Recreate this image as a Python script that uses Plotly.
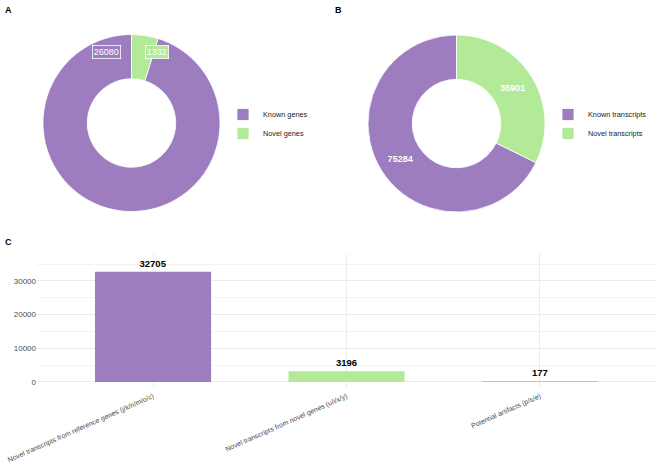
import plotly.graph_objects as go

# ---- data ----
gene_labels = ["Known genes", "Novel genes"]
gene_values = [26080, 1332]
tx_labels = ["Known transcripts", "Novel transcripts"]
tx_values = [75284, 35901]
cat_labels = [
    "Novel transcripts from reference genes (j/k/n/m/o/c)",
    "Novel transcripts from novel genes (u/i/x/y)",
    "Potential artifacts (p/s/e)",
]
cat_values = [32705, 3196, 177]

PURPLE = "#9d7cbf"
GREEN = "#b3ea97"
ORANGE = "#f4b38f"
FONT = "Liberation Sans, Arial, sans-serif"
W, H = 658, 468

def px(x):
    return x / W

def py(y):
    return 1 - y / H

# the Known slice starts where the Novel slice ends (Novel sits clockwise from 12 o'clock)
rot_a = 360 * gene_values[1] / sum(gene_values)
rot_b = 360 * tx_values[1] / sum(tx_values)

fig = go.Figure()

# Panel A donut
fig.add_trace(go.Pie(
    labels=gene_labels, values=gene_values, hole=0.5, sort=False,
    direction="clockwise", rotation=rot_a,
    marker=dict(colors=[PURPLE, GREEN], line=dict(color="white", width=0.8)),
    textinfo="none", hoverinfo="label+value",
    domain=dict(x=[px(43), px(220)], y=[py(212), py(34)]),
    legend="legend",
))

# Panel B donut
fig.add_trace(go.Pie(
    labels=tx_labels, values=tx_values, hole=0.5, sort=False,
    direction="clockwise", rotation=rot_b,
    marker=dict(colors=[PURPLE, GREEN], line=dict(color="white", width=0.8)),
    textinfo="value", textposition="inside", insidetextorientation="horizontal",
    texttemplate="<b>%{value:.0f}</b>",
    textfont=dict(color="white", size=9, family=FONT),
    hoverinfo="label+value",
    domain=dict(x=[px(368), px(545)], y=[py(212), py(35)]),
    legend="legend2",
))

# Panel C bars
fig.add_trace(go.Bar(
    x=cat_labels, y=cat_values, width=0.6,
    marker=dict(color=[PURPLE, GREEN, ORANGE], line=dict(width=0)),
    text=[f"<b>{v}</b>" for v in cat_values], textposition="outside",
    textfont=dict(color="black", size=9.5, family=FONT),
    cliponaxis=False, showlegend=False,
))

# Labels for panel A (label boxes)
fig.add_annotation(x=px(106), y=py(52), xref="paper", yref="paper",
                   xanchor="center", yanchor="middle",
                   text=str(gene_values[0]), showarrow=False,
                   font=dict(color="white", size=9, family=FONT),
                   bgcolor=PURPLE, bordercolor="white", borderwidth=0.8, borderpad=1)
fig.add_annotation(x=px(157), y=py(52), xref="paper", yref="paper",
                   xanchor="center", yanchor="middle",
                   text=str(gene_values[1]), showarrow=False,
                   font=dict(color="white", size=9, family=FONT),
                   bgcolor=GREEN, bordercolor="white", borderwidth=0.8, borderpad=1)

# panel letters
for letter, (x, y) in zip(["A", "B", "C"], [(3, 3), (333, 3), (3, 235)]):
    fig.add_annotation(x=px(x), y=py(y), xref="paper", yref="paper",
                       xanchor="left", yanchor="top", text=f"<b>{letter}</b>",
                       showarrow=False, font=dict(size=9, color="black", family=FONT))

fig.update_layout(
    width=W, height=H, margin=dict(l=0, r=0, t=0, b=0, autoexpand=False),
    paper_bgcolor="white", plot_bgcolor="white",
    font=dict(family=FONT, size=8, color="#4d4d4d"),
    legend=dict(x=px(223), y=py(124), xanchor="left", yanchor="middle",
                font=dict(size=7.3, color="#222222", family=FONT),
                itemwidth=30, tracegroupgap=0, bgcolor="rgba(0,0,0,0)"),
    legend2=dict(x=px(548), y=py(124), xanchor="left", yanchor="middle",
                 font=dict(size=7.3, color="#222222", family=FONT),
                 itemwidth=30, tracegroupgap=0, bgcolor="rgba(0,0,0,0)"),
    xaxis=dict(domain=[px(37), px(656)], range=[-0.6, 2.6], tickangle=-24,
               automargin=False, ticklabelstandoff=3,
               showgrid=True, gridcolor="#ebebeb", gridwidth=1, zeroline=False,
               showline=False, ticks="", tickfont=dict(size=7, color="#4d4d4d")),
    yaxis=dict(domain=[py(387), py(254)], range=[-1500, 38000],
               tickvals=[0, 10000, 20000, 30000], tickformat="d", ticks="",
               automargin=False,
               showgrid=True, gridcolor="#ebebeb", gridwidth=1, zeroline=False,
               minor=dict(tickvals=[5000, 15000, 25000, 35000], showgrid=True,
                          gridcolor="#f3f3f3", gridwidth=0.6),
               tickfont=dict(size=8, color="#4d4d4d")),
    bargap=0.4,
)

fig.write_html("out.html")
